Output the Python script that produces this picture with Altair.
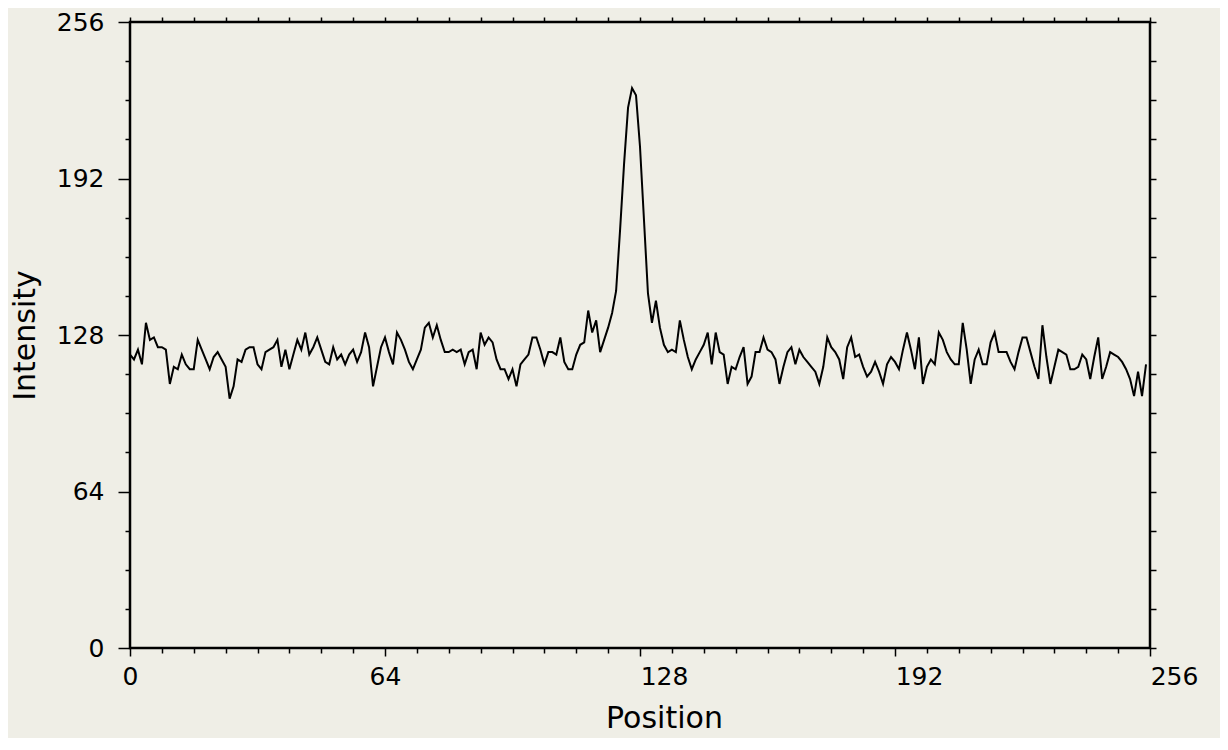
import altair as alt
import pandas as pd

position = list(range(256))
intensity = [
    120, 118, 122, 116, 133, 126, 127, 123, 123, 122, 108, 115, 114, 120, 116, 114,
    114, 126, 122, 118, 114, 119, 121, 118, 115, 102, 107, 118, 117, 122, 123, 123,
    116, 114, 121, 122, 123, 126, 115, 122, 114, 120, 126, 122, 129, 120, 123, 127,
    122, 117, 116, 123, 118, 120, 116, 120, 122, 117, 121, 129, 123, 107, 115, 123,
    127, 121, 116, 129, 126, 122, 117, 114, 118, 122, 131, 133, 127, 132, 126, 121,
    121, 122, 121, 122, 116, 121, 122, 114, 129, 124, 127, 125, 118, 114, 114, 110,
    114, 107, 116, 118, 120, 127, 127, 122, 116, 121, 121, 120, 127, 117, 114, 114,
    120, 124, 125, 138, 129, 134, 121, 126, 131, 137, 146, 171, 198, 221, 229, 226,
    205, 175, 145, 133, 142, 131, 124, 121, 122, 121, 134, 126, 119, 114, 118, 121,
    124, 129, 116, 129, 121, 120, 108, 115, 114, 119, 123, 108, 111, 121, 121, 127,
    122, 121, 118, 108, 115, 121, 123, 116, 122, 119, 117, 115, 113, 108, 115, 127,
    123, 121, 118, 110, 123, 127, 119, 120, 115, 111, 113, 117, 113, 108, 116, 119,
    117, 114, 122, 129, 122, 114, 127, 108, 115, 118, 116, 129, 126, 121, 118, 116,
    116, 133, 122, 108, 118, 122, 116, 116, 125, 129, 121, 121, 121, 117, 114, 121,
    127, 127, 121, 115, 110, 132, 119, 108, 115, 122, 121, 120, 114, 114, 115, 120,
    118, 110, 119, 127, 110, 115, 121, 120, 119, 117, 114, 110, 103, 113, 103, 116,
]
x_ticks = list(range(0, 257, 8))
y_ticks = list(range(0, 257, 16))

df = pd.DataFrame({"Position": position, "Intensity": intensity})

FONT = "DejaVu Sans"
BG = "#efeee6"

xscale = alt.Scale(domain=[0, 256], nice=False, zero=False)
yscale = alt.Scale(domain=[0, 256], nice=False)

major64 = "datum.value % 64 == 0"

bottom_axis = alt.Axis(
    orient="bottom", values=x_ticks, title="Position",
    labelExpr=f"{major64} ? datum.label : ''",
    labelOverlap=False, labelFlush=False,
    tickSize={"condition": {"test": major64, "value": 8}, "value": 5},
    labelOffset={"condition": {"test": "datum.value >= 128", "value": 24}, "value": 0},
    labelFont=FONT, labelFontSize=25, labelColor="black", labelPadding=8,
    tickColor="black", tickWidth=1.5, domain=False, grid=False,
    titleFont=FONT, titleFontSize=30, titleFontWeight="normal", titleColor="black",
    titleX=534, titleY=70, titleBaseline="middle", titleAlign="center",
)
top_axis = alt.Axis(
    orient="top", values=x_ticks, title=None, labels=False,
    tickSize=5, tickColor="black", tickWidth=1.5, domain=False, grid=False,
)
left_axis = alt.Axis(
    orient="left", values=y_ticks, title="Intensity",
    labelExpr=f"{major64} ? datum.label : ''",
    labelOverlap=False, labelFlush=False,
    tickSize={"condition": {"test": major64, "value": 12}, "value": 5},
    labelFont=FONT, labelFontSize=25, labelColor="black", labelPadding=14,
    labelBaseline="middle",
    tickColor="black", tickWidth=1.5, domain=False, grid=False,
    titleFont=FONT, titleFontSize=30, titleFontWeight="normal", titleColor="black",
    titleX=-105, titleY=313, titleAngle=-90, titleBaseline="middle", titleAlign="center",
)
right_axis = alt.Axis(
    orient="right", values=y_ticks, title=None, labels=False,
    tickSize=6, tickColor="black", tickWidth=1.5, domain=False, grid=False,
)

line = alt.Chart(df).mark_line(color="black", strokeWidth=2).encode(
    x=alt.X("Position:Q", scale=xscale, axis=bottom_axis),
    y=alt.Y("Intensity:Q", scale=yscale, axis=left_axis),
)
ghost = alt.Chart(df).mark_line(color="black", strokeWidth=2, opacity=0).encode(
    x=alt.X("Position:Q", scale=xscale, axis=top_axis),
    y=alt.Y("Intensity:Q", scale=yscale, axis=right_axis),
)

chart = alt.layer(line, ghost).resolve_axis(x="independent", y="independent").properties(
    width=1020, height=626,
    autosize=alt.AutoSizeParams(type="none"),
    padding={"left": 122, "top": 14, "right": 70, "bottom": 90},
    background=BG,
).configure_view(stroke="black", strokeWidth=2.5, fill=BG)

chart.save("out.html", embed_options={"renderer": "svg", "actions": False})
